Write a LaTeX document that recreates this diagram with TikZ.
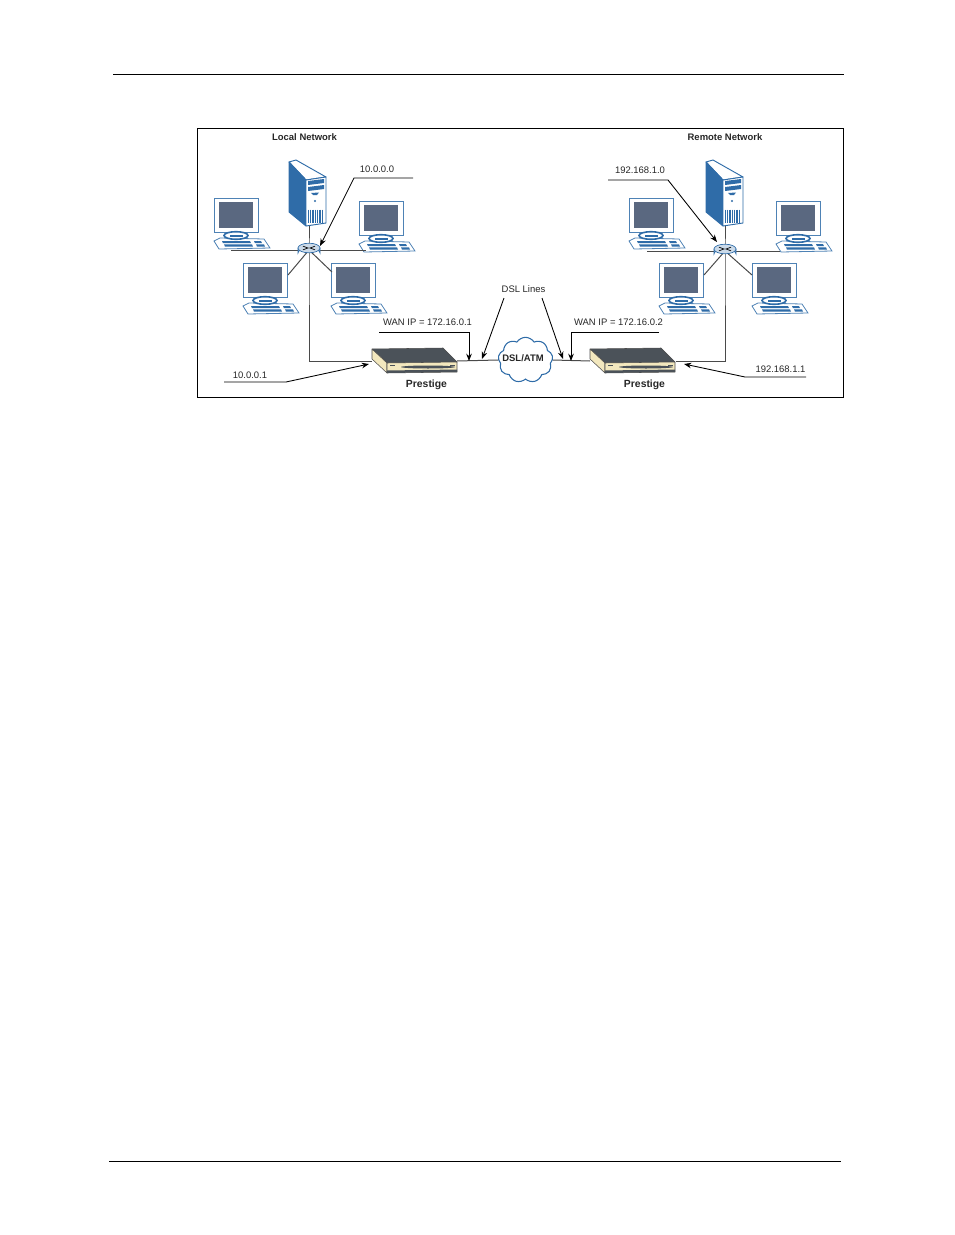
\documentclass[tikz,border=0pt]{standalone}
\usepackage{fontspec}
\setmainfont{Liberation Sans}
\usetikzlibrary{shapes.symbols, arrows.meta}
\definecolor{iconblue}{HTML}{2F6CA8}
\definecolor{screengray}{HTML}{5A6880}
\definecolor{wiregray}{HTML}{4A4A4A}
\definecolor{boxtop}{HTML}{4B5259}
\definecolor{boxcream}{HTML}{F3E8BE}
\tikzset{
  wire/.style={wiregray, line width=.75pt},
  leader/.style={black, line width=.65pt},
  pointer/.style={leader, ->},
  txt/.style={inner sep=0pt, font=\fontsize{7.1}{8}\selectfont, text=black!85},
  boldtxt/.style={txt, font=\fontsize{7.1}{8}\selectfont\bfseries},
  pics/pcicon/.style={code={
    \draw [iconblue!85, fill=white, line width=.6pt] (0,0) rectangle (44,34);
    \fill [screengray] (5,4) rectangle (39,30);
    \draw [iconblue!85, fill=white, line width=.6pt] (0,43)--(6,40)--(50,41)--(56,50)--(5,51)--cycle;
    \draw [iconblue, fill=white, line width=1.2pt] (22,37.5) ellipse (12 and 3.8);
    \fill [iconblue] (16,36.5) rectangle (29,39);
    \fill [iconblue] (8,43)--(36,43)--(37,45.2)--(9,45.2)--cycle;
    \fill [iconblue] (10,46.3)--(38,46.3)--(39,48.6)--(11,48.6)--cycle;
    \fill [iconblue] (40,43)--(47,43)--(48,45.2)--(41,45.2)--cycle;
    \fill [iconblue] (42,46.3)--(50,46.3)--(51,48.6)--(43,48.6)--cycle;
  }},
  pics/servericon/.style={code={
    \draw [iconblue, fill=white, line width=.7pt, line join=round] (0,0)--(7,-2)--(37,15)--(17,18)--cycle;
    \draw [iconblue, fill=iconblue, line width=.7pt, line join=round] (0,0)--(17,18)--(17,64)--(0,50)--cycle;
    \draw [iconblue, fill=white, line width=.7pt, line join=round] (17,18)--(37,15)--(37,61)--(17,64)--cycle;
    \fill [iconblue] (19,19)--(35,17)--(35,21)--(19,23)--cycle;
    \fill [iconblue] (19,25)--(35,23)--(35,27)--(19,29)--cycle;
    \fill [iconblue] (22,31)--(30,30.5)--(28,33)--(24,33)--cycle;
    \fill [iconblue] (26,39) circle (1.2);
    \foreach \gx in {19.5,21.8,24.1,26.4,28.7,31,33.3}
      \draw [iconblue, line width=1pt] (\gx,47.5)--(\gx,61);
  }},
  pics/routericon/.style={code={
    \draw [iconblue, fill=iconblue!60, line width=.5pt] (-11,-2)--(-11,3) arc [start angle=180, end angle=360, x radius=11, y radius=4.8]--(11,-2)--cycle;
    \draw [iconblue, fill=iconblue!25, line width=.5pt] (0,-2) ellipse (11 and 4.8);
    \draw [black, line width=.5pt] (-6,-3.8)--(-1,-2)--(-6,-.2) (6,-3.8)--(1,-2)--(6,-.2);
  }},
  pics/prestigeicon/.style={code={
    \draw [black!70, fill=boxtop, line width=.4pt, line join=round] (0,0)--(71,-1)--(85,13)--(15,14)--cycle;
    \draw [black!70, fill=boxcream, line width=.4pt, line join=round] (0,0)--(15,14)--(15,24)--(0,10)--cycle;
    \draw [black!70, fill=boxcream, line width=.4pt, line join=round] (15,14)--(85,13)--(85,23)--(15,24)--cycle;
    \fill [boxtop] (15,21.5)--(85,20.5)--(85,23)--(15,24)--cycle;
    \fill [boxtop] (56,18) ellipse (27 and 1.5);
    \fill [boxtop] (18,15.5) rectangle (23,17);
    \fill [boxtop] (78,15.5) rectangle (83,17);
  }},
}
\begin{document}
\begin{tikzpicture}[>={Stealth[length=5.5pt,width=4.2pt]}, x=.75pt, y=-.75pt]
\useasboundingbox (0,0) rectangle (954,1235);

\coordinate (headA) at (113,74);
\coordinate (headB) at (844,74);
\coordinate (footA) at (109,1161);
\coordinate (footB) at (841,1161);
\draw [black, line width=.6pt] (headA)--(headB);
\draw [black, line width=.6pt] (footA)--(footB);
\draw [black, line width=.75pt] (197,128) rectangle (843,397);

\node (localnet) [boldtxt] at (304.5,137) {Local Network};
\node (remotenet) [boldtxt] at (725,137) {Remote Network};

\coordinate (routerL) at (309,250);
\coordinate (routerR) at (725,251);

\pic (serverL) at (289,162) {servericon};
\pic (serverR) at (706,162) {servericon};
\foreach \pcname/\px/\py in {pcA/214/198, pcB/359/201, pcC/243/263, pcD/331/263,
                             pcE/629/198, pcF/776/201, pcG/659/263, pcH/752/263}
  \pic (\pcname) at (\px,\py) {pcicon};

\pic (boxL) at (372,349) {prestigeicon};
\pic (boxR) at (590,349) {prestigeicon};
\node (cloudnet) [cloud, cloud puffs=9, cloud puff arc=115, aspect=1.2, draw=iconblue, fill=white, line width=.8pt,
  minimum width=41pt, minimum height=34pt, inner sep=0pt] at (525.5,360) {};
\node (cloudtext) [boldtxt] at (523,358.5) {DSL/ATM};

\coordinate (pcAport) at (231,250);
\coordinate (pcBport) at (366,250);
\coordinate (pcCport) at (288,275);
\coordinate (pcDport) at (332,272);
\coordinate (serverLport) at (309,226);
\coordinate (boxLin) at (372,361);
\coordinate (boxLout) at (457,361);
\coordinate (cornerL) at (309,361);

\coordinate (pcEport) at (647,251);
\coordinate (pcFport) at (780,251);
\coordinate (pcGport) at (704,275);
\coordinate (pcHport) at (752,275);
\coordinate (serverRport) at (725,226);
\coordinate (boxRin) at (676,361);
\coordinate (boxRout) at (590,361);
\coordinate (cornerR) at (725,361);

\draw [wire] (pcAport)--(pcBport);
\draw [wire] (serverLport)--(routerL)--(cornerL)--(boxLin);
\draw [wire] (routerL)--(pcCport);
\draw [wire] (routerL)--(pcDport);
\draw [wire] (pcEport)--(pcFport);
\draw [wire] (serverRport)--(routerR)--(cornerR)--(boxRin);
\draw [wire] (routerR)--(pcGport);
\draw [wire] (routerR)--(pcHport);
\draw [wire] (boxLout)--(cloudnet.west);
\draw [wire] (cloudnet.east)--(boxRout);

\pic (routerLicon) at (routerL) {routericon};
\pic (routerRicon) at (routerR) {routericon};

\node (labelA) [txt] at (377,169) {10.0.0.0};
\coordinate (labelAa) at (413,178);
\coordinate (labelAb) at (354,178);
\coordinate (labelAc) at (320,246);
\draw [pointer] (labelAa)--(labelAb)--(labelAc);

\node (labelB) [txt] at (640,170) {192.168.1.0};
\coordinate (labelBa) at (608,180);
\coordinate (labelBb) at (668,180);
\coordinate (labelBc) at (717,242);
\draw [pointer] (labelBa)--(labelBb)--(labelBc);

\node (labelC) [txt] at (250,375) {10.0.0.1};
\coordinate (labelCa) at (224,382);
\coordinate (labelCb) at (286,382);
\coordinate (labelCc) at (369,364);
\draw [pointer] (labelCa)--(labelCb)--(labelCc);

\node (labelD) [txt] at (780.5,369) {192.168.1.1};
\coordinate (labelDa) at (806,377);
\coordinate (labelDb) at (745,377);
\coordinate (labelDc) at (684,364);
\draw [pointer] (labelDa)--(labelDb)--(labelDc);

\node (wanL) [txt] at (427.5,322) {WAN IP = 172.16.0.1};
\coordinate (wanLa) at (379,332);
\coordinate (wanLb) at (469,332);
\coordinate (wanLc) at (469,361);
\draw [pointer] (wanLa)--(wanLb)--(wanLc);

\node (wanR) [txt] at (618.5,322) {WAN IP = 172.16.0.2};
\coordinate (wanRa) at (659,332);
\coordinate (wanRb) at (571,332);
\coordinate (wanRc) at (571,361);
\draw [pointer] (wanRa)--(wanRb)--(wanRc);

\node (dsl) [txt] at (523.5,289.5) {DSL Lines};
\coordinate (dslAa) at (504,298);
\coordinate (dslAb) at (482,359);
\coordinate (dslBa) at (542,298);
\coordinate (dslBb) at (563,359);
\draw [pointer] (dslAa)--(dslAb);
\draw [pointer] (dslBa)--(dslBb);

\node (prestigeL) [boldtxt, font=\fontsize{7.8}{9}\selectfont\bfseries] at (426.5,384.5) {Prestige};
\node (prestigeR) [boldtxt, font=\fontsize{7.8}{9}\selectfont\bfseries] at (644.5,384.5) {Prestige};
\end{tikzpicture}
\end{document}
